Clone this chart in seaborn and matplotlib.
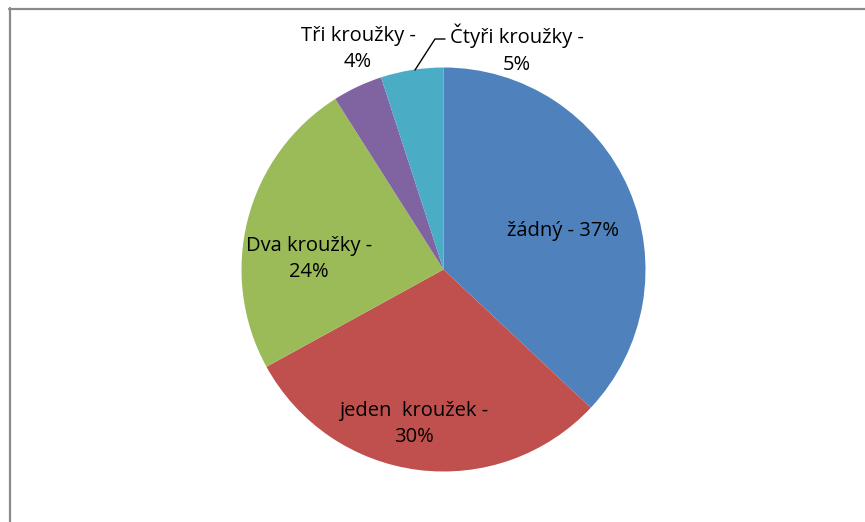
import matplotlib
matplotlib.use("Agg")
import matplotlib.pyplot as plt
from matplotlib.lines import Line2D
import seaborn as sns

categories = ["žádný", "jeden  kroužek", "Dva kroužky", "Tři kroužky", "Čtyři kroužky"]
values = [37, 30, 24, 4, 5]
label_texts = ["žádný - 37%", "jeden  kroužek -\n30%", "Dva kroužky -\n24%",
               "Tři kroužky -\n4%", "Čtyři kroužky -\n5%"]
colors = ["#4F81BD", "#C0504D", "#9BBB59", "#8064A2", "#4BACC6"]

sns.set_theme(style="white")
plt.rcParams['font.family'] = ['Open Sans', 'DejaVu Sans']

W, H = 865, 522
fig = plt.figure(figsize=(W / 100, H / 100), dpi=100)
fig.patch.set_facecolor("white")

cx, cy, r = 443.5, 269.5, 202
ax = fig.add_axes([(cx - r) / W, (H - cy - r) / H, 2 * r / W, 2 * r / H])
ax.pie(values, colors=colors, startangle=90, counterclock=False, radius=1,
       wedgeprops=dict(linewidth=0))
ax.set_xlim(-1, 1)
ax.set_ylim(-1, 1)
ax.set_aspect("equal")
ax.axis("off")

def px(x, y):
    return ((x - cx) / r, (cy - y) / r)

label_pos = [(563, 231), (414, 424), (309, 259), (358, 49), (517, 49)]
for txt, (x, y) in zip(label_texts, label_pos):
    dx, dy = px(x, y)
    ax.text(dx, dy, txt, ha="center", va="center", fontsize=14.5, color="black",
            linespacing=1.45, clip_on=False)

# leader line for the small slice
pts = [px(415, 70), px(435, 39), px(445, 39)]
ax.plot([p[0] for p in pts], [p[1] for p in pts], color="black", lw=1.0, clip_on=False)

# chart frame
fig.add_artist(Line2D([9 / W, 1], [1 - 8.5 / H, 1 - 8.5 / H], transform=fig.transFigure,
                      color="#8a8a8a", lw=1.6))
fig.add_artist(Line2D([9.5 / W, 9.5 / W], [0, 1 - 8 / H], transform=fig.transFigure,
                      color="#8a8a8a", lw=1.6))

fig.savefig("out.png", dpi=100, facecolor="white")
